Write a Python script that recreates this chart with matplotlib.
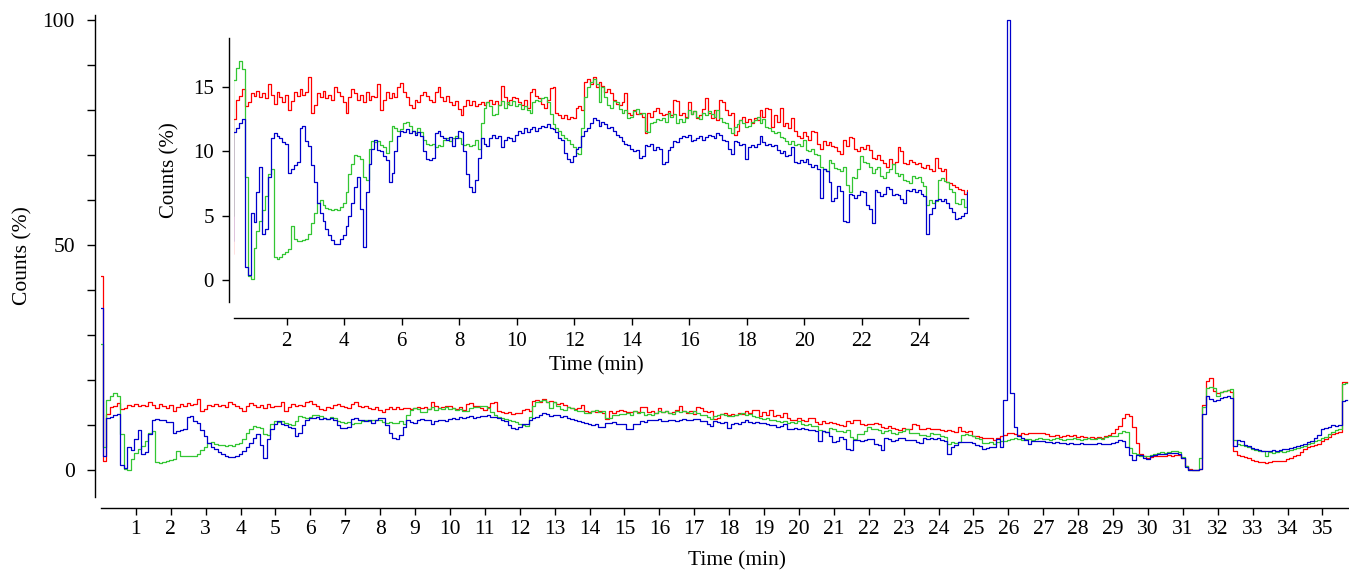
import matplotlib.pyplot as plt
import numpy as np
from matplotlib.ticker import MultipleLocator

plt.rcParams['font.family'] = 'Liberation Serif'

# counts (%) sampled every 0.1 min, from 0.0 to 35.7 min
red = [
    43, 2, 12.5, 14.0, 14.3, 14.8, 13.5, 13.8, 14.5, 14.3,
    14.7, 14.2, 14.5, 14.1, 15.2, 14.4, 13.7, 14.6, 14.2, 13.8,
    14.4, 13.2, 13.9, 14.6, 14.3, 14.8, 14.4, 14.6, 15.8, 13.0,
    13.6, 14.5, 14.2, 14.7, 14.1, 14.4, 14.0, 15.0, 14.6, 14.3,
    13.8, 13.0, 14.2, 14.8, 14.5, 14.0, 14.4, 13.8, 14.6, 14.0,
    14.3, 14.2, 15.2, 13.2, 14.0, 14.6, 14.1, 14.5, 14.2, 15.0,
    15.3, 14.6, 14.2, 13.6, 13.4, 14.0, 13.8, 14.4, 14.6, 14.3,
    14.0, 13.8, 14.6, 15.0, 14.2, 13.9, 14.3, 13.8, 13.6, 13.9,
    13.3, 12.8, 13.5, 14.0, 13.6, 13.9, 13.5, 13.7, 13.8, 13.6,
    13.8, 14.0, 13.7, 13.9, 13.6, 15.1, 14.2, 13.7, 14.0, 14.2,
    14.1, 13.8, 13.6, 14.0, 13.4, 14.6, 14.8, 14.3, 14.1, 13.7,
    13.4, 14.0, 14.9, 15.0, 13.0, 12.8, 12.6, 12.8, 12.5, 12.7,
    12.6, 13.4, 13.5, 13.2, 15.4, 15.6, 15.2, 15.8, 15.0, 15.4,
    15.1, 14.6, 14.8, 14.5, 14.0, 13.7, 13.6, 13.8, 14.5, 13.0,
    12.8, 13.2, 12.9, 13.0, 12.7, 11.4, 13.0, 12.7, 13.1, 13.4,
    13.0, 12.8, 12.9, 13.1, 12.8, 14.0, 13.9, 12.8, 13.0, 12.7,
    13.8, 12.9, 13.1, 12.6, 12.8, 13.3, 14.1, 13.0, 12.6, 13.2,
    12.4, 14.0, 13.8, 13.2, 12.8, 13.0, 11.3, 11.6, 12.4, 12.7,
    12.3, 12.5, 12.2, 12.6, 12.4, 13.2, 12.7, 13.4, 13.3, 11.9,
    12.8, 12.3, 13.4, 12.0, 12.2, 11.8, 12.6, 11.6, 11.2, 11.0,
    11.5, 11.2, 10.9, 11.6, 11.5, 10.6, 10.2, 10.8, 10.5, 10.7,
    10.4, 10.3, 10.0, 9.8, 10.9, 10.4, 11.1, 11.0, 10.2, 10.0,
    10.3, 10.2, 10.5, 10.1, 9.5, 9.4, 9.7, 9.3, 9.1, 8.8,
    9.4, 9.0, 9.2, 10.3, 10.0, 9.1, 9.0, 9.3, 9.2, 9.0,
    9.1, 8.8, 8.7, 8.9, 8.6, 8.5, 9.5, 8.7, 8.5, 8.6,
    7.6, 7.5, 7.4, 7.2, 7.1, 7.0, 6.7, 7.0, 7.5, 7.8,
    8.3, 8.2, 8.0, 7.8, 8.1, 7.9, 8.2, 8.3, 8.1, 8.3,
    8.2, 8.0, 7.6, 7.5, 7.7, 7.4, 7.6, 7.8, 7.5, 7.7,
    7.4, 7.6, 7.3, 7.2, 7.4, 7.1, 7.3, 7.2, 7.5, 7.8,
    8.2, 9.0, 9.8, 11.6, 12.4, 12.0, 9.5, 6.0, 3.6, 3.0,
    2.7, 2.8, 3.0, 3.2, 3.0, 3.1, 3.3, 3.2, 3.4, 3.3,
    2.6, 0.8, 0.2, 0.0, 0.1, 0.3, 14.5, 19.8, 20.5, 17.5,
    17.0, 17.4, 17.6, 17.8, 17.2, 4.2, 3.3, 3.0, 2.8, 2.6,
    2.2, 2.0, 1.8, 1.7, 1.6, 1.8, 2.0, 1.9, 2.0, 2.1,
    2.4, 2.7, 3.0, 3.4, 4.0, 4.6, 5.0, 5.4, 5.6, 5.8,
    6.4, 6.8, 7.4, 8.0, 8.3, 8.5, 19.5, 19.6,
]

green = [
    28, 5, 15.5, 16.5, 17.0, 16.4, 8.0, 0.3, 0.1, 2.5,
    3.8, 4.6, 5.4, 6.5, 8.2, 8.6, 1.8, 1.6, 1.8, 2.0,
    2.2, 2.4, 4.2, 3.2, 3.0, 3.0, 3.1, 3.2, 3.6, 4.4,
    5.2, 6.0, 6.2, 5.8, 5.6, 5.5, 5.4, 5.5, 5.4, 5.7,
    6.0, 6.8, 8.2, 9.0, 9.7, 9.6, 9.4, 8.0, 7.8, 10.2,
    10.8, 10.7, 10.8, 10.5, 10.3, 9.9, 10.8, 12.0, 11.8, 11.6,
    11.7, 12.2, 12.3, 12.0, 11.6, 11.4, 11.8, 11.5, 10.9, 10.6,
    10.5, 10.6, 10.3, 10.5, 10.4, 10.9, 11.0, 10.8, 11.0, 11.2,
    11.0, 10.6, 10.5, 10.6, 10.4, 10.5, 10.9, 10.2, 12.2, 13.4,
    13.8, 13.5, 12.8, 12.9, 13.6, 13.9, 13.4, 13.8, 13.6, 13.9,
    13.5, 13.7, 13.3, 13.5, 13.2, 13.0, 13.8, 14.0, 13.9, 14.1,
    14.2, 13.8, 12.9, 12.1, 11.8, 11.6, 11.3, 11.0, 10.9, 10.6,
    10.3, 9.9, 9.8, 11.8, 14.2, 15.0, 15.4, 15.6, 15.2, 13.8,
    15.0, 14.2, 13.6, 13.4, 13.9, 13.8, 13.3, 13.0, 13.2, 12.6,
    12.7, 13.1, 13.3, 12.9, 13.0, 11.6, 11.5, 12.2, 12.3, 12.5,
    12.4, 12.6, 12.3, 13.0, 12.7, 12.9, 12.2, 12.5, 12.3, 12.6,
    13.2, 12.9, 13.1, 12.7, 12.5, 13.0, 12.8, 13.1, 12.9, 12.7,
    13.2, 12.6, 12.3, 12.2, 11.8, 11.4, 11.9, 12.1, 12.4, 12.2,
    11.9, 12.0, 12.3, 12.4, 12.7, 12.2, 12.5, 11.9, 11.8, 11.6,
    11.4, 11.5, 11.1, 11.0, 10.8, 10.6, 10.8, 10.5, 10.6, 10.4,
    10.9, 10.1, 10.0, 10.2, 9.8, 9.7, 8.8, 8.6, 8.5, 9.3,
    9.1, 8.7, 8.6, 8.5, 8.8, 7.4, 6.8, 8.0, 7.9, 8.6,
    9.6, 9.2, 9.1, 8.8, 8.3, 8.6, 8.8, 8.1, 7.9, 8.4,
    8.6, 9.0, 8.3, 8.1, 8.2, 7.8, 7.7, 7.5, 8.1, 7.9,
    8.0, 7.6, 7.3, 5.8, 6.2, 6.0, 6.1, 7.8, 7.9, 7.7,
    7.6, 7.1, 6.8, 6.0, 5.9, 6.3, 5.7, 6.2, 6.4, 6.5,
    6.6, 6.8, 7.0, 6.8, 6.6, 6.8, 6.9, 6.7, 6.8, 7.0,
    6.8, 6.9, 6.7, 6.9, 7.0, 6.8, 6.7, 6.9, 6.8, 7.0,
    6.9, 6.7, 6.8, 7.0, 6.9, 6.8, 7.1, 6.9, 7.3, 7.5,
    7.6, 7.5, 8.2, 8.7, 8.4, 4.8, 3.8, 3.6, 3.2, 3.0,
    3.1, 3.4, 3.6, 3.8, 3.9, 3.8, 4.0, 4.3, 4.2, 4.0,
    2.8, 0.8, 0.1, 0.0, 0.0, 2.6, 14.0, 18.2, 18.5, 18.3,
    16.4, 17.2, 17.6, 17.8, 18.0, 6.6, 5.8, 5.6, 5.4, 5.1,
    4.6, 4.4, 4.2, 4.3, 3.0, 3.9, 3.8, 4.0, 4.2, 4.1,
    4.3, 4.5, 4.6, 4.9, 5.2, 5.4, 5.7, 6.0, 6.4, 6.6,
    7.0, 7.4, 7.9, 8.4, 8.8, 9.0, 19.0, 19.2,
]

blue = [
    36, 3, 11.5, 11.8, 12.2, 12.5, 1.0, 0.4, 5.2, 4.5,
    6.8, 8.8, 3.6, 4.0, 8.0, 11.0, 11.4, 11.2, 11.0, 10.7,
    10.6, 8.3, 8.6, 8.9, 9.2, 11.8, 12.0, 10.8, 10.4, 8.9,
    7.6, 6.0, 5.2, 4.6, 4.0, 3.5, 3.1, 2.8, 2.8, 3.2,
    3.5, 4.2, 5.0, 6.0, 7.2, 8.0, 5.5, 2.6, 6.8, 9.0,
    10.2, 10.9, 10.1, 10.0, 9.6, 9.3, 7.6, 8.3, 10.0, 11.2,
    11.6, 11.5, 11.7, 11.4, 11.6, 11.3, 11.5, 11.2, 10.0, 9.4,
    9.3, 9.5, 11.4, 11.6, 11.2, 11.0, 10.9, 11.1, 10.4, 11.0,
    11.6, 11.5, 10.0, 8.2, 7.2, 6.8, 7.8, 9.5, 11.0, 10.6,
    10.4, 11.0, 11.3, 11.0, 11.2, 10.3, 10.9, 11.1, 11.0, 10.8,
    11.3, 11.6, 11.4, 11.8, 11.5, 11.7, 11.9, 11.6, 11.8, 12.0,
    11.9, 12.1, 11.8, 11.7, 11.5, 11.0, 10.9, 9.9, 9.4, 9.2,
    9.6, 10.2, 10.3, 11.2, 11.6, 11.8, 12.2, 12.6, 12.4, 12.0,
    12.3, 12.1, 11.8, 11.9, 11.6, 11.3, 11.1, 10.8, 10.6, 10.5,
    10.2, 10.0, 10.1, 9.5, 9.6, 10.5, 10.4, 10.6, 10.1, 10.3,
    10.2, 9.0, 9.2, 10.1, 10.3, 10.8, 10.7, 11.0, 11.2, 11.1,
    11.3, 10.8, 10.9, 11.0, 11.2, 10.9, 11.1, 11.3, 11.2, 11.0,
    11.4, 11.3, 10.9, 10.8, 10.2, 9.8, 10.8, 10.7, 10.5, 10.6,
    9.4, 10.3, 10.5, 10.3, 10.6, 11.2, 10.7, 10.5, 10.6, 10.4,
    10.5, 10.1, 9.9, 10.0, 9.6, 9.7, 10.3, 9.2, 9.1, 9.3,
    9.2, 9.4, 9.0, 8.8, 8.9, 8.6, 6.4, 8.6, 8.5, 7.6,
    6.1, 6.4, 7.3, 6.9, 4.6, 4.5, 6.7, 6.6, 6.4, 6.6,
    6.9, 6.8, 5.8, 5.5, 4.4, 7.0, 6.8, 6.5, 6.7, 7.2,
    7.1, 6.6, 6.7, 6.6, 6.3, 6.0, 7.0, 6.9, 7.1, 6.8,
    7.0, 6.7, 6.5, 3.6, 5.1, 5.6, 6.2, 6.3, 6.1, 6.3,
    6.0, 5.6, 5.3, 4.7, 4.8, 5.0, 5.2, 6.8, 5.0, 15.6,
    100, 17.0, 9.5, 7.5, 7.0, 6.6, 5.8, 6.4, 6.5, 6.4,
    6.5, 6.3, 6.2, 6.0, 6.1, 5.9, 6.0, 5.8, 5.9, 5.8,
    5.8, 5.9, 5.8, 5.7, 5.8, 5.8, 5.9, 5.8, 5.8, 5.8,
    5.9, 6.2, 6.6, 6.4, 5.0, 3.4, 2.2, 3.4, 3.3, 2.6,
    2.5, 3.2, 3.4, 3.5, 3.6, 3.5, 3.7, 3.8, 3.7, 3.6,
    2.6, 0.6, 0.0, 0.0, 0.0, 0.2, 12.4, 16.4, 15.8, 15.4,
    15.6, 16.0, 16.2, 16.4, 16.0, 5.4, 6.6, 6.4, 5.6, 5.4,
    4.8, 4.6, 4.4, 4.3, 4.2, 4.3, 4.4, 4.2, 4.5, 4.6,
    4.6, 4.8, 5.0, 5.3, 5.5, 5.8, 6.2, 6.5, 7.0, 7.8,
    9.0, 9.3, 9.6, 9.9, 9.8, 10.0, 15.4, 15.6,
]

time = np.arange(len(red)) * 0.1

main_xticks = list(range(1, 36))
main_yticks = [0, 50, 100]
inset_xticks = list(range(2, 25, 2))
inset_yticks = [0, 5, 10, 15]

series = [(red, '#ff0000'), (green, '#33c633'), (blue, '#0000cc')]

W, H = 1349, 571
fig = plt.figure(figsize=(W / 100, H / 100), dpi=100)


def box(left, top, right, bottom):
    return [left / W, 1 - bottom / H, (right - left) / W, (bottom - top) / H]


def px(n):
    return n * 72 / 100


def style(a, left_off, bottom_off, size):
    a.spines[['top', 'right']].set_visible(False)
    a.spines['left'].set_position(('outward', px(left_off)))
    a.spines['bottom'].set_position(('outward', px(bottom_off)))
    for s in ('left', 'bottom'):
        a.spines[s].set_linewidth(1.0)
    a.tick_params(which='both', direction='out', length=5, width=1.0,
                  labelsize=size)
    a.patch.set_alpha(0)


ax = fig.add_axes(box(101, 15, 1349, 497))
ins = fig.add_axes(box(234, 38, 968, 302))

for a in (ax, ins):
    for vals, c in series:
        a.plot(time, vals, color=c, lw=0.9, drawstyle='steps-mid')

# main panel
style(ax, 6, 11, 15.5)
ax.set_xlim(0, 35.76)
ax.set_ylim(-6, 101)
ax.set_xticks(main_xticks)
ax.set_yticks(main_yticks)
ax.yaxis.set_minor_locator(MultipleLocator(10))
ax.tick_params(axis='y', which='both', length=5.5, pad=9)
ax.tick_params(axis='x', pad=4)
ax.set_xlabel('Time (min)', fontsize=15.5)
ax.set_ylabel('Counts (%)', fontsize=15.5)
ax.xaxis.set_label_coords(0.51, -0.112)
ax.yaxis.set_label_coords(-0.055, 0.5)

# zoomed panel
style(ins, 5, 16, 15)
ins.set_xlim(0.17, 25.7)
ins.set_ylim(-1.71, 18.8)
ins.set_xticks(inset_xticks)
ins.set_yticks(inset_yticks)
ins.tick_params(axis='y', pad=6)
ins.tick_params(axis='x', pad=5)
ins.set_xlabel('Time (min)', fontsize=15)
ins.set_ylabel('Counts (%)', fontsize=15)
ins.xaxis.set_label_coords(0.493, -0.205)
ins.yaxis.set_label_coords(-0.074, 0.5)

fig.savefig('out.png', dpi=100)
